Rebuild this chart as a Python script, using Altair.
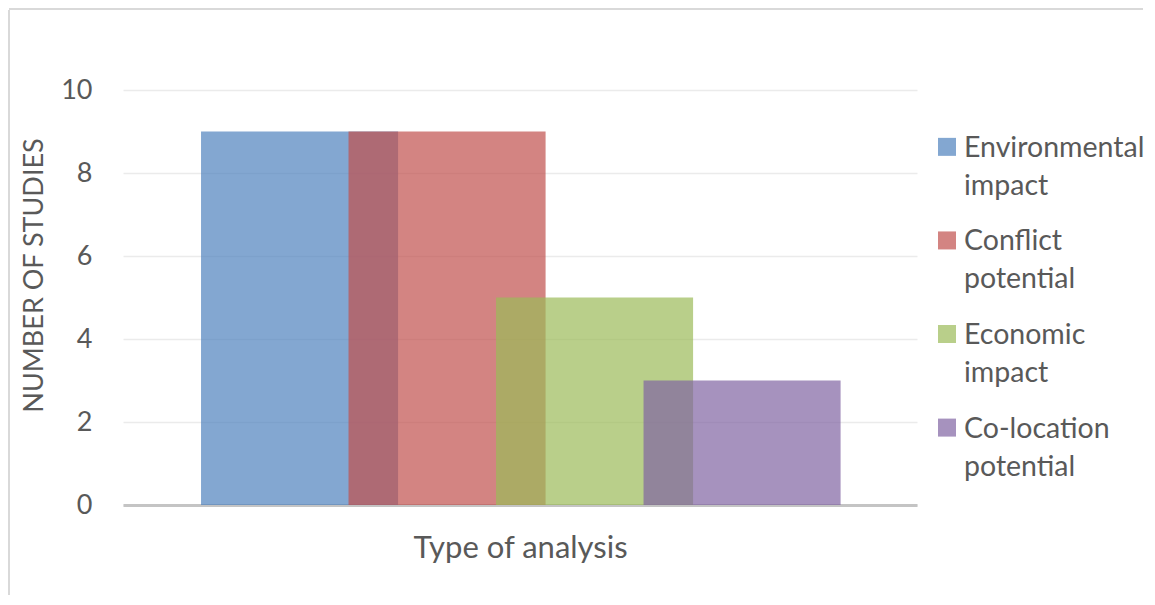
import altair as alt
import pandas as pd

categories = ["Environmental impact", "Conflict potential", "Economic impact", "Co-location potential"]
studies = [9, 9, 5, 3]
colors = ["#4F81BD", "#C0504D", "#9BBB59", "#8064A2"]
y_ticks = [0, 2, 4, 6, 8, 10]

df = pd.DataFrame({"category": categories, "studies": studies, "idx": list(range(len(categories)))})
one = pd.DataFrame({"k": [0]})

W, H = 794, 415
FONT = "Lato"
TEXT = "#595959"

color_scale = alt.Scale(domain=categories, range=colors)
x_scale = alt.Scale(domain=[-1.197, 4.186], nice=False, zero=False)
y_scale = alt.Scale(domain=[0, 10], nice=False)

bars = alt.Chart(df).transform_calculate(
    x0="datum.idx - 0.668", x1="datum.idx + 0.668"
).mark_rect(opacity=0.7).encode(
    x=alt.X("x0:Q", scale=x_scale, axis=alt.Axis(
        title="Type of analysis", labels=False, ticks=False, grid=False,
        domainColor="#C4C4C4", domainWidth=3,
        titleFont=FONT, titleFontSize=31, titleFontWeight="normal", titleColor=TEXT,
        titleBaseline="alphabetic", titleY=52)),
    x2="x1:Q",
    y=alt.Y("studies:Q", scale=y_scale, axis=alt.Axis(
        values=y_ticks, title="NUMBER OF STUDIES", ticks=False, domain=False,
        labelFont=FONT, labelFontSize=27, labelColor=TEXT, labelPadding=31,
        gridColor="#EBEBEB", gridWidth=1.5,
        titleFont=FONT, titleFontSize=27, titleFontWeight="normal", titleColor=TEXT,
        titleBaseline="alphabetic", titleX=-81, titleY=185)),
    y2=alt.datum(0),
    color=alt.Color("category:N", scale=color_scale, legend=None),
)

leg = alt.Chart(df).transform_calculate(
    ly="8.63 - 2.255*datum.idx", lines="split(datum.category, ' ')"
)
squares = leg.mark_square(size=324, opacity=0.7, filled=True).encode(
    x=alt.value(824), y=alt.Y("ly:Q", scale=y_scale),
    color=alt.Color("category:N", scale=color_scale, legend=None),
)
labels = leg.mark_text(align="left", baseline="alphabetic", dy=10, lineHeight=38,
                       font=FONT, fontSize=28.5, color=TEXT).encode(
    x=alt.value(841), y=alt.Y("ly:Q", scale=y_scale), text="lines:N",
)

frame_top = alt.Chart(one).mark_rule(color="#D9D9D9", strokeWidth=2).encode(
    x=alt.value(-114), x2=alt.value(1020), y=alt.value(-81))
frame_left = alt.Chart(one).mark_rule(color="#D9D9D9", strokeWidth=2).encode(
    x=alt.value(-114), y=alt.value(-80), y2=alt.value(H + 90))

chart = alt.layer(frame_top, frame_left, bars, squares, labels).properties(
    width=W, height=H, padding={"left": 0, "top": 0, "right": 0, "bottom": 0}
).configure_view(stroke=None)

chart.save("out.html", embed_options={"renderer": "svg", "actions": False})
